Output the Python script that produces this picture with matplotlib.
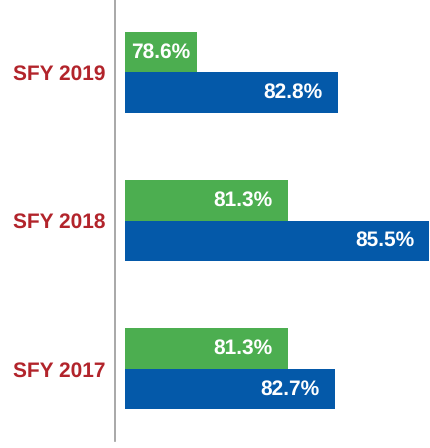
import matplotlib
matplotlib.use("Agg")
import matplotlib.pyplot as plt
import numpy as np

# data
years = ["SFY 2017", "SFY 2018", "SFY 2019"]
green_vals = [81.3, 81.3, 78.6]
blue_vals = [82.7, 85.5, 82.8]

GREEN = "#4CAE50"
BLUE = "#0459A9"
RED = "#B2242B"

base = 76.47  # bars start here (chart isn't zero based)
bar_h = 0.273

plt.rcParams["font.family"] = ["Liberation Sans", "DejaVu Sans"]
plt.rcParams["text.hinting"] = "no_hinting"

fig = plt.figure(figsize=(4.30, 4.48), dpi=100)
ax = fig.add_axes([124.7 / 430, 7.5 / 448, 1 - 124.7 / 430, 440.5 / 448])

# spines first (set_position resets the ticks)
for s in ("top", "right", "bottom"):
    ax.spines[s].set_visible(False)
ax.spines["left"].set_position(("outward", 7))
ax.spines["left"].set_color("#9a9a9a")
ax.spines["left"].set_linewidth(1.2)

y = np.arange(len(years))
ax.barh(y + bar_h / 2, np.array(green_vals) - base, left=base,
        height=bar_h, color=GREEN, linewidth=0)
ax.barh(y - bar_h / 2, np.array(blue_vals) - base, left=base,
        height=bar_h, color=BLUE, linewidth=0)

ax.set_xlim(base, 85.52)
ax.set_ylim(-0.483, 2.487)

# labels inside the bars
for yy, vals in ((y + bar_h / 2, green_vals), (y - bar_h / 2, blue_vals)):
    for yi, v in zip(yy, vals):
        if v - base < 3:
            ax.text((base + v) / 2, yi, f"{v}%", ha="center", va="center",
                    color="white", fontsize=15, fontweight="bold")
        else:
            ax.annotate(f"{v}%", (v, yi), xytext=(-11, 0),
                        textcoords="offset points", ha="right", va="center",
                        color="white", fontsize=15, fontweight="bold")

ax.set_xticks([])
ax.set_yticks(y)
ax.set_yticklabels(years, color=RED, fontweight="bold", fontsize=15)
ax.tick_params(axis="y", length=0, pad=7)

fig.savefig("out.png", dpi=100)
